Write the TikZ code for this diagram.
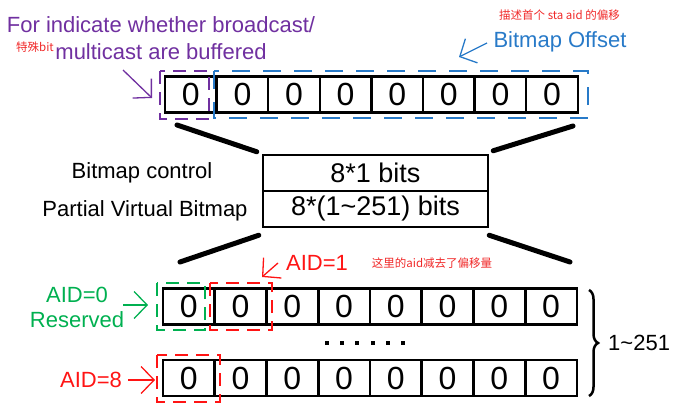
\documentclass[tikz,border=0pt]{standalone}
\usepackage{fontspec}
\setmainfont{Liberation Sans}
\newfontfamily\cjk{Noto Sans CJK SC}
\usetikzlibrary{arrows.meta}
\usetikzlibrary{decorations.pathreplacing}
\definecolor{flagpurple}{RGB}{112,48,160}
\definecolor{offsetblue}{RGB}{40,122,200}
\definecolor{aidgreen}{RGB}{0,176,80}
\definecolor{aidred}{RGB}{255,20,20}
\definecolor{notered}{RGB}{240,40,40}

\begin{document}
\begin{tikzpicture}[>={Straight Barb[length=13pt,width=27pt]},x=1pt,y=-1pt,
		bitcell/.style={draw,line width=2.5pt,minimum width=51.6pt,minimum height=36pt,inner sep=0pt,font=\fontsize{32}{32}\selectfont},
		fieldbox/.style={draw,line width=2.5pt,minimum width=225pt,minimum height=36pt,inner sep=0pt,font=\fontsize{27}{27}\selectfont},
		zoomline/.style={line width=5pt,line cap=round},
		pointer/.style={->,line width=1.3pt},
		dashbox/.style={line width=2.5pt,dash pattern=on 13pt off 8pt},
		label/.style={font=\fontsize{22}{25}\selectfont,inner sep=0pt},
		note/.style={font=\cjk\fontsize{11.5}{11.5}\selectfont,text=notered,inner sep=0pt}]
			\useasboundingbox (0,0) rectangle (691,412);

			\foreach \i in {1,...,8}
				\node[bitcell] (T\i) at ({165+51.6*(\i-0.5)},94.5) {0};
			\foreach \i in {1,...,8}
				\node[bitcell] (R\i) at ({163+51.75*(\i-0.5)},306.5) {0};
			\foreach \i in {1,...,8}
				\node[bitcell] (S\i) at ({163+51.75*(\i-0.5)},378) {0};

			\node[fieldbox] (C) at (375.5,173) {8*1 bits};
			\node[fieldbox] (P) at (375.5,209) {8*(1\textasciitilde251) bits};
			\node[label] (Cl) at (142,173) {Bitmap control};
			\node[label] (Pl) at (145,211) {Partial Virtual Bitmap};

			\coordinate (A) at (177,125);
			\coordinate (B) at (573,126);
			\coordinate (D) at (180,262);
			\coordinate (E) at (570,262);
			\draw[zoomline] (A)--([shift={(-5,-2)}]C.north west);
			\draw[zoomline] (B)--([shift={(4,-3)}]C.north east);
			\draw[zoomline] (D)--([shift={(-3,7)}]P.south west);
			\draw[zoomline] (E)--([shift={(0,7)}]P.south east);

			\draw[dashbox,flagpurple] (160,71) rectangle (209,119);
			\draw[dashbox,offsetblue,dash pattern=on 18pt off 13pt] (214,71) rectangle (588,118);
			\draw[dashbox,aidgreen] (157,283) rectangle (205,330);
			\draw[dashbox,aidred] (210,283) rectangle (272,330);
			\draw[dashbox,aidred] (157,355) rectangle (220,402);

			\node[label,text=flagpurple,align=center,font=\fontsize{22}{27}\selectfont] (F) at (161,38) {For indicate whether broadcast/\\multicast are buffered};
			\node[note] (Fn) at (35,47) {特殊bit};
			\coordinate (F1) at (123,70);
			\coordinate (F2) at (152,98);
			\draw[pointer,flagpurple] (F1)--(F2);

			\node[label,text=offsetblue] (O) at (560,42) {Bitmap Offset};
			\node[note] (On) at (559.5,15) {描述首个 sta aid 的偏移};
			\coordinate (O1) at (487,43);
			\coordinate (O2) at (459,57);
			\draw[pointer,offsetblue] (O1)--(O2);

			\node[label,text=aidgreen,align=center] (G) at (77,307) {AID=0\\Reserved};
			\coordinate (G1) at (123,305);
			\coordinate (G2) at (148,305);
			\draw[pointer,aidgreen] (G1)--(G2);

			\node[label,text=aidred] (H) at (317,263) {AID=1};
			\node[note] (Hn) at (432,263) {这里的aid减去了偏移量};
			\coordinate (H1) at (278,263);
			\coordinate (H2) at (262,277);
			\draw[pointer,aidred] (H1)--(H2);

			\node[label,text=aidred] (K) at (91,380) {AID=8};
			\coordinate (K1) at (128,380);
			\coordinate (K2) at (155,380);
			\draw[pointer,aidred] (K1)--(K2);

			\foreach \k in {0,...,5}
				\fill ({325+15.2*\k},341) rectangle +(4,4);

			\draw[decorate,decoration={brace,amplitude=9pt},line width=2.5pt] (589,290)--(589,396);
			\node[label,anchor=west] (N) at (608,343) {1\textasciitilde251};
		\end{tikzpicture}
\end{document}
